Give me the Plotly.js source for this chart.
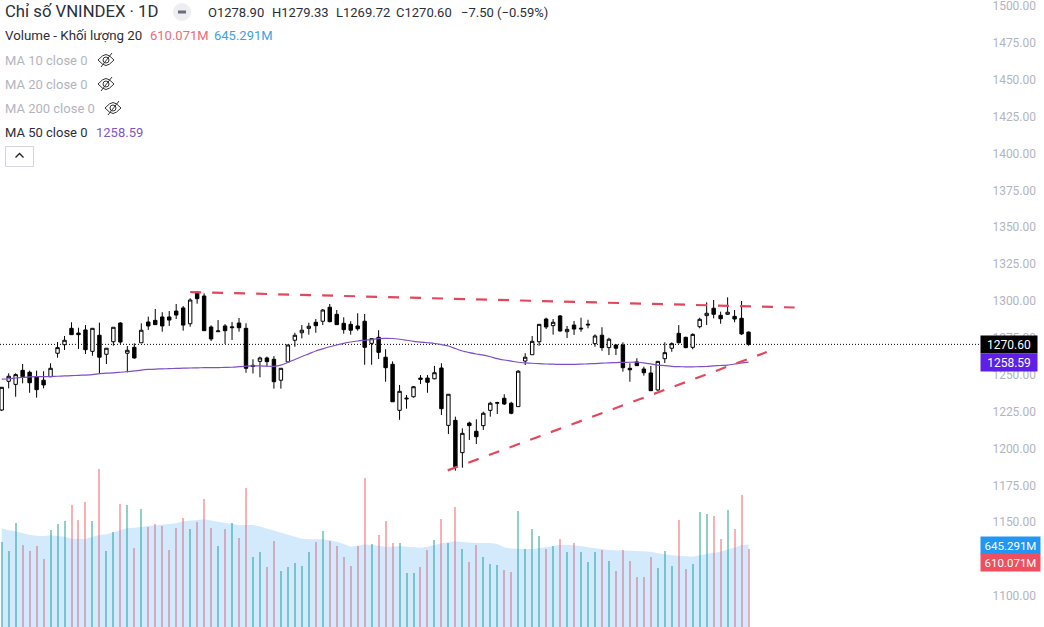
<!DOCTYPE html>
<html>
<head>
<meta charset="utf-8">
<script src="https://cdn.plot.ly/plotly-3.0.1.min.js"></script>
<style>html,body{margin:0;padding:0;background:#fff;overflow:hidden}#chart{width:1044px;height:627px}</style>
</head>
<body>
<div id="chart"></div>
<script>
const opens = [1225.4,1244.9,1242.8,1252.3,1251,1248,1245.6,1248,1263.9,1269.7,1280.8,1277.6,1279.7,1265.2,1276.1,1263.2,1271.7,1284.4,1263.9,1267.9,1271,1285.1,1286.2,1288.5,1288.5,1292.5,1294.6,1283.9,1305.4,1302.7,1281.7,1278.5,1282.4,1281.2,1284.4,1280.8,1254.9,1258.4,1260.7,1259.8,1245.6,1258,1272.7,1277.8,1280.8,1284.9,1285.6,1295.1,1290.3,1284.2,1283.5,1282.4,1285.6,1270.6,1274.7,1261.2,1256.4,1225.2,1232.9,1234.4,1247.1,1247.1,1246.6,1253.9,1215,1218.4,1196.5,1216.6,1211,1214.8,1225.2,1230,1233.4,1230,1227.7,1258.6,1262.9,1271.7,1287.1,1282.6,1289.2,1278.5,1283,1280.3,1283,1270.4,1276.1,1267.7,1269.5,1269.5,1253.7,1258,1253.2,1250.5,1239,1260.2,1267.3,1277.4,1274.7,1267.9,1281.9,1289.4,1294.4,1289.6,1290.3,1288.9,1287.6,1278.9];
const highs = [1241,1250.3,1250.3,1256.6,1252.1,1252.1,1251.7,1257.1,1271.5,1275.6,1284.9,1281.2,1283,1280.8,1284.6,1267.3,1281.5,1284.9,1268.8,1270.6,1284.2,1288.7,1293.9,1291.7,1292.5,1297.3,1295.9,1301.2,1305.4,1304.5,1282.8,1286.4,1283.7,1285.1,1287.8,1284.2,1259.8,1261.6,1261.6,1262,1253.7,1269.5,1277.8,1283,1284.6,1287.1,1293.9,1297.3,1293.2,1288.3,1285.6,1291,1290.5,1273.8,1279.5,1266.6,1258.4,1242.4,1235.6,1241.7,1249.1,1249.1,1255.3,1257.1,1236.1,1220.9,1213,1217.5,1219.1,1224.3,1231,1231,1236.1,1231,1252.5,1263.9,1275.6,1283.5,1288,1287.1,1289.8,1282.4,1285.8,1288,1286.6,1276.7,1281.5,1274.4,1270,1271.3,1257.1,1260.5,1254.8,1255.3,1258.4,1271.3,1271.3,1283,1275.1,1277.4,1288,1298.4,1300,1292.1,1301.8,1293.2,1299.3,1279.33];
const lows = [1224.7,1240.1,1234.4,1243.5,1237.1,1233.8,1240.1,1248,1260.9,1266.1,1276.5,1266.8,1263.4,1262.2,1249.8,1256.6,1269,1270.2,1251,1260.2,1271,1279.7,1283.3,1278.5,1282.4,1287.1,1279.2,1281.9,1297.5,1279.2,1272.2,1278.5,1270.2,1272.9,1278.5,1250.7,1250.2,1247.6,1254.8,1239.9,1239.9,1258,1268.3,1274,1276.5,1277.8,1283,1284.9,1283.3,1277.2,1276.5,1279.2,1256.1,1256.1,1260,1244.6,1231,1218.8,1226.3,1233.8,1243,1237.1,1246.2,1222,1209.1,1184.3,1186.3,1205.1,1202.4,1211.9,1220.9,1222.7,1228.8,1222.5,1227.7,1255.9,1262.9,1269,1280.3,1276.5,1278.5,1274.2,1276.3,1278.5,1280.8,1268.3,1265.6,1262.7,1262.7,1251.4,1244.6,1255.3,1248.7,1238.3,1238.5,1257.3,1264.9,1270.6,1267.3,1266.6,1280.8,1283,1287.6,1283.9,1289.8,1284.9,1276.3,1269.72];
const closes = [1240.8,1248.3,1249.4,1248,1243.9,1239.2,1242.4,1253.7,1267.7,1272.7,1276.5,1276.5,1266.3,1280.8,1261.2,1267.3,1281.5,1271.5,1265.9,1260.7,1279.5,1282.4,1283.3,1282.4,1286.4,1289.8,1283,1300,1300.9,1279.2,1273.6,1279,1279.2,1281.7,1281.2,1253.7,1255.7,1260.7,1258.2,1244.6,1253.7,1269.5,1276.1,1279.5,1282.2,1282.6,1293.2,1285.3,1283.3,1279.9,1279.5,1280.5,1267.9,1273.8,1264.5,1254.1,1231,1238.1,1233.4,1241.2,1246.2,1244.2,1250.7,1226.3,1236.1,1187,1209.6,1214.8,1207.3,1223.2,1230,1230.4,1229.5,1223.2,1251.7,1261.2,1272,1283.5,1281.7,1284.9,1279,1280.1,1280.3,1280.8,1283.5,1275.6,1267.7,1273.4,1267.3,1254.1,1252.7,1255.5,1250.7,1238.5,1258.4,1264.3,1270.4,1271,1267.7,1276.7,1286.9,1291,1290.3,1287.3,1291.7,1287.1,1277,1270.6];
const ma50 = [1246.3,1246.6,1247.1,1247.5,1247.9,1248,1248,1248.1,1248.3,1248.5,1248.7,1248.9,1249.1,1249.4,1250.1,1250.4,1250.6,1251,1251.4,1251.9,1252.5,1252.9,1253.2,1253.3,1253.5,1253.6,1253.8,1253.9,1254,1254.1,1254.2,1254.2,1254.3,1254.4,1254.8,1255.2,1255.3,1255.3,1255.1,1255,1255.8,1257.6,1259.7,1261.7,1263.5,1265.4,1266.9,1268.3,1269.5,1270.6,1271.5,1272.2,1272.7,1273.2,1273.8,1274,1273.9,1273.4,1272.7,1272,1271.5,1271,1270.5,1269.8,1268.8,1267.1,1265.4,1264.3,1263.4,1262.6,1261.5,1260.3,1259.3,1258.6,1257.8,1257.4,1257.1,1256.8,1256.6,1256.5,1256.3,1256.3,1256.3,1256.5,1256.7,1256.9,1257.2,1257.4,1257.6,1257.7,1257.8,1257.8,1257.4,1256.7,1255.9,1255.5,1255,1254.8,1254.7,1254.7,1254.8,1254.9,1255.3,1255.6,1255.9,1256.6,1257.4,1258.59];
const volumes = [667,594,816,639,594,636,532,759,806,832,954,837,975,832,1236,597,740,962,954,618,920,782,806,790,602,774,850,766,824,1001,774,634,766,811,696,1087,550,587,469,673,438,469,501,477,587,665,751,673,634,547,477,634,1165,647,720,829,654,654,422,422,469,602,680,845,654,939,607,508,641,547,493,485,446,433,907,610,769,712,610,634,688,587,654,584,511,587,600,519,441,602,519,388,388,550,461,594,477,837,454,493,899,884,868,688,915,766,1032,610.071];
const volumeMA = [772,756,748,735,720,714,712,717,714,706,691,688,688,706,720,725,738,759,772,777,785,790,795,800,806,811,826,834,837,842,832,821,813,808,795,798,798,785,769,756,740,727,709,691,686,686,686,678,667,649,628,636,647,641,634,628,628,634,628,623,620,628,644,654,662,670,665,660,657,657,657,649,623,613,610,610,610,615,623,634,644,644,641,634,623,615,607,602,600,600,597,594,592,589,576,566,561,558,553,550,561,574,581,589,607,626,639,645.291];
const resistanceIdx = [27, 113.6];
const resistancePrice = [1305.4, 1294.9];
const supportIdx = [63.9, 109.6];
const supportPrice = [1184.5, 1264.7];
const priceTicks = [1100,1150,1175,1200,1225,1250,1275,1300,1325,1350,1375,1400,1425,1450,1475,1500];
/* The candle readings above were taken with a 0.68-point bias; the final bar's printed OHLC is exact. */
const READ_BIAS = 0.68;
const unbias = arr => arr.map((v, i) => i === arr.length - 1 ? v : +(v + READ_BIAS).toFixed(2));
const unbiasAll = arr => arr.map(v => +(v + READ_BIAS).toFixed(2));

const idx = opens.map((_, i) => i);
const TEAL = 'rgba(8,153,129,0.46)', RED = 'rgba(242,54,69,0.40)';
const volColors = idx.map(i => closes[i] >= opens[i] ? TEAL : RED);

const W = 980, H = 627;
const px = v => v / W, py = v => 1 - v / H;
const FONT = 'Roboto, Arial, sans-serif';

function label(text, x, y, size, color) {
  return {text, xref:'paper', yref:'paper', x:px(x), y:py(y), xanchor:'left', yanchor:'middle',
    showarrow:false, align:'left', font:{family:FONT, size, color}, borderpad:0};
}
function tag(text, bg, yref, yval, yshift, w, size) {
  return {text, xref:'paper', yref, x:px(980), y:yval, yshift, xanchor:'left', yanchor:'middle', showarrow:false,
    bgcolor:bg, width:w, height:17, borderpad:0, align:'center', font:{family:FONT, size, color:'#fff'}};
}
function icon(path, x, y, color, width) {
  return {type:'path', xref:'paper', yref:'paper', xsizemode:'pixel', ysizemode:'pixel', xanchor:px(x), yanchor:py(y),
    path, line:{color, width}, fillcolor:'rgba(0,0,0,0)', layer:'above'};
}
const EYE = 'M-8,0 Q-3,5.5 0,5.5 Q3,5.5 8,0 Q3,-5.5 0,-5.5 Q-3,-5.5 -8,0 Z M-3,0 Q-3,3 0,3 Q3,3 3,0 Q3,-3 0,-3 Q-3,-3 -3,0 Z M-5,-7 L6,7';

const traces = [
  {type:'bar', x:idx, y:volumes, width:0.2865, marker:{color:volColors, line:{width:0}}, xaxis:'x', yaxis:'y', hoverinfo:'skip', showlegend:false},
  {type:'scatter', mode:'lines', x:idx, y:volumeMA, fill:'tozeroy', fillcolor:'rgba(33,150,243,0.2)', line:{width:0, color:'rgba(33,150,243,0.2)'}, xaxis:'x', yaxis:'y', hoverinfo:'skip', showlegend:false},
  {type:'candlestick', x:idx, open:unbias(opens), high:unbias(highs), low:unbias(lows), close:unbias(closes), xaxis:'x', yaxis:'y2', whiskerwidth:0,
    increasing:{line:{color:'#000', width:1}, fillcolor:'#fff'}, decreasing:{line:{color:'#000', width:1}, fillcolor:'#000'}, hoverinfo:'skip', showlegend:false},
  {type:'scatter', mode:'lines', x:idx, y:unbias(ma50), line:{color:'#7e4fc6', width:1.2, shape:'spline', smoothing:0.6}, xaxis:'x', yaxis:'y2', hoverinfo:'skip', showlegend:false},
  {type:'scatter', mode:'lines', x:resistanceIdx, y:unbiasAll(resistancePrice), line:{color:'#e2475c', width:2.2, dash:'11px,11px'}, xaxis:'x', yaxis:'y2', hoverinfo:'skip', showlegend:false},
  {type:'scatter', mode:'lines', x:supportIdx, y:unbiasAll(supportPrice), line:{color:'#e2475c', width:2.2, dash:'11px,11px'}, xaxis:'x', yaxis:'y2', hoverinfo:'skip', showlegend:false}
];

const layout = {
  width:1044, height:627, margin:{l:0, r:64, t:0, b:0, pad:0}, paper_bgcolor:'#fff', plot_bgcolor:'#fff', showlegend:false,
  font:{family:FONT}, hovermode:false, bargap:0,
  xaxis:{visible:false, range:[-0.244, 140.16], rangeslider:{visible:false}, fixedrange:true},
  yaxis:{visible:false, range:[0, 4903], fixedrange:true},
  yaxis2:{overlaying:'y', side:'right', range:[1078.98, 1504.07], tickmode:'array', tickvals:priceTicks,
    ticktext:priceTicks.map(v => v.toFixed(2)), showgrid:false, zeroline:false, showline:false, ticklabeloverflow:'allow',
    ticks:'outside', ticklen:9, tickcolor:'rgba(0,0,0,0)', tickwidth:0, tickfont:{family:FONT, size:12, color:'#b2b5be'}, fixedrange:true},
  shapes:[
    {type:'line', xref:'paper', yref:'y2', x0:0, x1:1, y0:1270.6, y1:1270.6, line:{color:'#000', width:1, dash:'1px,2px'}, layer:'below'},
    {type:'circle', xref:'paper', yref:'paper', xsizemode:'pixel', ysizemode:'pixel', xanchor:px(182), yanchor:py(12), x0:-9, x1:9, y0:-9, y1:9, fillcolor:'#eceef2', line:{width:0}, layer:'above'},
    {type:'path', xref:'paper', yref:'paper', xsizemode:'pixel', ysizemode:'pixel', xanchor:px(182), yanchor:py(12), path:'M-4,-1.5 L4,-1.5 L4,1.5 L-4,1.5 Z', fillcolor:'#6a6d78', line:{width:0}, layer:'above'},
    icon(EYE, 106, 60, '#333', 1),
    icon(EYE, 106, 84, '#333', 1),
    icon(EYE, 113, 108, '#333', 1),
    {type:'rect', xref:'paper', yref:'paper', x0:px(5.5), x1:px(33.5), y0:py(166.5), y1:py(146.5), line:{color:'#d4d6dd', width:1}, fillcolor:'#fff', layer:'above'},
    icon('M-4,-2 L0,2 L4,-2', 19.5, 155.5, '#222', 1.4)
  ],
  annotations:[
    label('Chỉ số VNINDEX · 1D', 4, 11.5, 16.7, '#2a2e39'),
    label('O1278.90', 207, 12.5, 13, '#2a2e39'),
    label('H1279.33', 271, 12.5, 13, '#2a2e39'),
    label('L1269.72', 335, 12.5, 13, '#2a2e39'),
    label('C1270.60', 395, 12.5, 13, '#2a2e39'),
    label('−7.50 (−0.59%)', 460, 12.5, 13, '#2a2e39'),
    label('Volume - Khối lượng 20', 4, 36, 13.3, '#2a2e39'),
    label('610.071M', 149, 36, 13, '#ef6a76'),
    label('645.291M', 213, 36, 13, '#3f9fe0'),
    label('MA 10 close 0', 4, 60, 13, '#b2b5be'),
    label('MA 20 close 0', 4, 84, 13, '#b2b5be'),
    label('MA 200 close 0', 4, 108, 13, '#b2b5be'),
    label('MA 50 close 0', 4, 132, 13, '#2a2e39'),
    label('1258.59', 95, 132, 13, '#7e57c2'),
    tag('1270.60', '#000', 'y2', 1270.6, 0, 56, 12),
    tag('1258.59', '#5e20e6', 'y2', 1258.59, -0.4, 56, 12),
    tag('645.291M', '#2196f3', 'y', 645.291, -1, 59, 11.5),
    tag('610.071M', '#ef4f5f', 'y', 610.071, -13.5, 59, 11.5)
  ]
};
Plotly.newPlot('chart', traces, layout, {displayModeBar:false, staticPlot:true});
</script>
</body>
</html>
